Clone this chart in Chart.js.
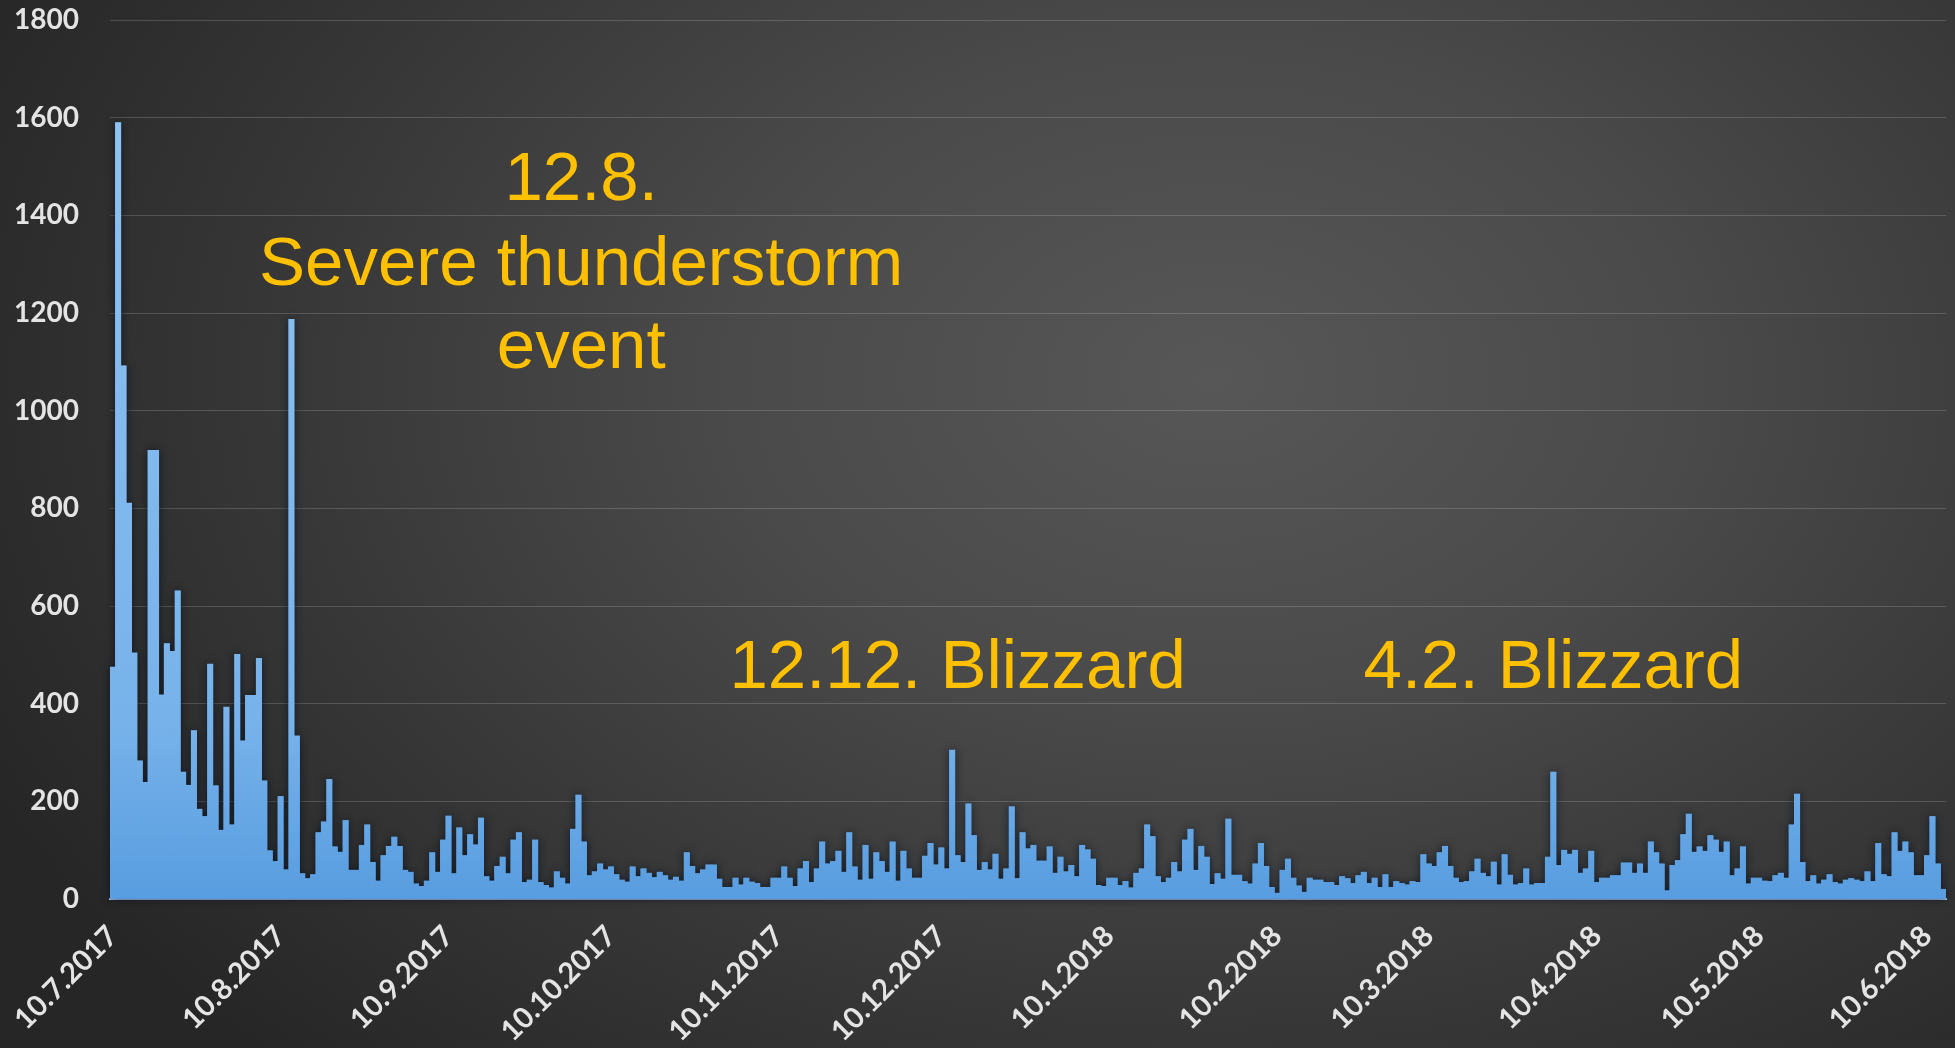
<!DOCTYPE html>
<html lang="en">
<head>
<meta charset="UTF-8">
<title>Daily reports 7/2017 - 6/2018</title>
<style>
  html, body { margin: 0; padding: 0; }
  body {
    width: 1955px; height: 1048px; overflow: hidden;
    background: radial-gradient(ellipse 70% 90% at 62% 36%, #575757 0%, #4a4a4a 35%, #363636 70%, #262626 100%);
  }
</style>
</head>
<body>
<canvas id="myChart" width="1955" height="1048"></canvas>
<script src="https://cdn.jsdelivr.net/npm/chart.js"></script>
<script>
// first bar is 10.7.2017, one bar per day
const startDay = { d: 10, m: 7, y: 2017 };

const jul2017 = [475, 1590, 1092, 811, 504, 283, 239, 919, 919, 418, 523, 507, 631, 260, 233, 345, 184, 169, 481, 232, 141, 393];
const aug2017 = [152, 501, 324, 417, 417, 493, 242, 99, 77, 210, 60, 1187, 334, 52, 42, 50, 136, 158, 245, 107, 96, 161, 59, 59, 110, 152, 75, 37, 89, 108, 127];
const sep2017 = [108, 59, 55, 31, 26, 37, 95, 55, 121, 170, 52, 146, 89, 132, 111, 166, 46, 37, 67, 86, 52, 121, 136, 34, 39, 121, 34, 28, 23, 56];
const oct2017 = [43, 31, 143, 213, 117, 48, 56, 72, 60, 66, 50, 39, 35, 66, 46, 62, 53, 44, 55, 48, 39, 45, 37, 95, 67, 52, 60, 70, 70, 41, 24];
const nov2017 = [24, 43, 29, 43, 35, 32, 24, 24, 43, 43, 66, 43, 26, 62, 77, 34, 62, 117, 72, 77, 98, 55, 136, 66, 39, 110, 41, 95, 77, 55];
const dec2017 = [117, 37, 98, 62, 43, 43, 88, 114, 70, 105, 62, 305, 89, 75, 195, 130, 59, 75, 60, 92, 41, 62, 189, 42, 136, 103, 110, 78, 78, 107, 53];
const jan2018 = [86, 56, 69, 46, 110, 101, 82, 28, 26, 43, 43, 28, 36, 23, 53, 62, 152, 128, 46, 34, 43, 75, 56, 121, 143, 59, 108, 86, 30, 52, 41];
const feb2018 = [164, 49, 49, 36, 31, 72, 114, 67, 24, 12, 59, 82, 43, 27, 14, 43, 39, 39, 34, 34, 28, 46, 42, 32, 48, 55, 32, 43];
const mar2018 = [24, 50, 24, 36, 32, 29, 36, 34, 91, 72, 67, 95, 108, 67, 43, 34, 36, 56, 82, 53, 46, 76, 29, 91, 49, 29, 32, 62, 29, 32, 32];
const apr2018 = [86, 260, 69, 100, 92, 100, 53, 62, 98, 34, 43, 43, 48, 48, 74, 74, 53, 72, 53, 117, 95, 72, 17, 69, 79, 132, 174, 96, 107, 98];
const may2018 = [130, 121, 96, 117, 48, 62, 107, 31, 43, 43, 37, 36, 48, 53, 43, 152, 215, 75, 36, 48, 31, 39, 50, 34, 31, 39, 42, 39, 36, 56, 36];
const jun2018 = [114, 50, 46, 136, 98, 117, 95, 48, 48, 89, 169, 72, 20];

const tickLabels = ['10.7.2017', '10.8.2017', '10.9.2017', '10.10.2017', '10.11.2017', '10.12.2017',
                    '10.1.2018', '10.2.2018', '10.3.2018', '10.4.2018', '10.5.2018', '10.6.2018'];

const yTicks = [0, 200, 400, 600, 800, 1000, 1200, 1400, 1600, 1800];

const noteTexts = ['12.8.', 'Severe thunderstorm', 'event', '12.12. Blizzard', '4.2. Blizzard'];

// build the table for the chart
const counts = [].concat(jul2017, aug2017, sep2017, oct2017, nov2017, dec2017,
                         jan2018, feb2018, mar2018, apr2018, may2018, jun2018);
const days = [];
const dt = new Date(startDay.y, startDay.m - 1, startDay.d);
for (let i = 0; i < counts.length; i++) {
    days.push(dt.getDate() + '.' + (dt.getMonth() + 1) + '.' + dt.getFullYear());
    dt.setDate(dt.getDate() + 1);
}

// where the orange notes sit: [day index, y value]
const noteAnchors = [[86.5, 1470], [86.5, 1296], [86.5, 1126], [156, 472], [266, 472]];

const notesPlugin = {
    id: 'notes',
    afterDatasetsDraw(chart) {
        const ctx = chart.ctx;
        const x = chart.scales.x, y = chart.scales.y;
        ctx.save();
        ctx.fillStyle = '#ffc000';
        ctx.font = '69px "Liberation Sans", Arial, sans-serif';
        ctx.textAlign = 'center';
        ctx.textBaseline = 'middle';
        noteTexts.forEach(function (t, i) {
            ctx.fillText(t, x.getPixelForValue(noteAnchors[i][0]), y.getPixelForValue(noteAnchors[i][1]));
        });
        ctx.restore();
    }
};

// dark glow around the bar silhouette (one path, so no stripes between bars)
const shadowPlugin = {
    id: 'barShadow',
    beforeDatasetsDraw(chart) {
        const c = chart.ctx;
        const bars = chart.getDatasetMeta(0).data;
        c.save();
        c.beginPath();
        bars.forEach(function (b) {
            c.rect(b.x - b.width / 2, b.y, b.width, b.base - b.y);
        });
        c.shadowColor = 'rgba(8,16,30,0.85)';
        c.shadowBlur = 9;
        c.fillStyle = '#4f93da';
        c.fill();
        c.restore();
    }
};

function barFill(context) {
    const area = context.chart.chartArea;
    if (!area) return '#5b9bd5';
    const g = context.chart.ctx.createLinearGradient(0, area.bottom, 0, area.top);
    g.addColorStop(0, '#589de0');
    g.addColorStop(0.2, '#77b2ea');
    g.addColorStop(1, '#92c5f2');
    return g;
}

const ctx = document.getElementById('myChart');
const mychart = new Chart(ctx, {
    type: 'bar',
    data: {
        labels: days,
        datasets: [{
            label: 'count',
            data: counts,
            backgroundColor: barFill,
            borderWidth: 0,
            barPercentage: 1,
            categoryPercentage: 1
        }]
    },
    plugins: [shadowPlugin, notesPlugin],
    options: {
        responsive: false,
        animation: false,
        layout: { padding: { left: 10, top: 20, right: 9, bottom: 0 } },
        plugins: {
            legend: { display: false },
            tooltip: { enabled: false },
            title: { display: false }
        },
        scales: {
            x: {
                grid: { display: false, drawTicks: false },
                border: { display: true, color: '#a9cdf0', width: 2 },
                ticks: {
                    autoSkip: false,
                    minRotation: 45,
                    maxRotation: 45,
                    padding: 20,
                    color: '#e4e4e4',
                    font: { family: 'Lato', size: 29, weight: 'bold' },
                    callback: function (v, i) {
                        return tickLabels.indexOf(days[i]) >= 0 ? days[i] : '';
                    }
                },
                afterFit: function (scale) {
                    scale.height = 149;
                    scale.paddingLeft = 0;
                    scale.paddingRight = 0;
                }
            },
            y: {
                min: 0,
                max: 1800,
                afterBuildTicks: function (scale) {
                    scale.ticks = yTicks.map(function (v) { return { value: v }; });
                },
                grid: { color: 'rgba(255,255,255,0.17)', lineWidth: 1, drawTicks: false },
                border: { display: false },
                ticks: {
                    padding: 31,
                    color: '#e4e4e4',
                    font: { family: 'Lato', size: 28, weight: 'bold' },
                    callback: function (v) { return String(v); }
                },
                afterFit: function (scale) {
                    scale.width = 100;
                    scale.paddingTop = 0;
                    scale.paddingBottom = 0;
                }
            }
        }
    }
});
</script>
</body>
</html>
